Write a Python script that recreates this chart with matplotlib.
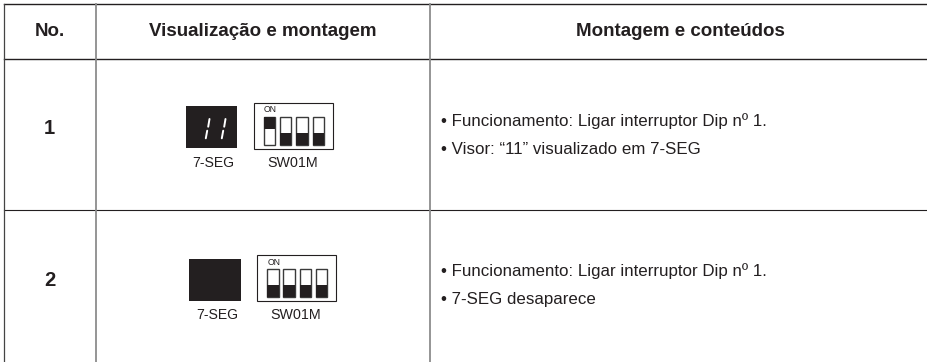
"""Table of 7-SEG and DIP switch display states."""

import matplotlib

matplotlib.use("Agg")
import matplotlib.pyplot as plt
from matplotlib.patches import Rectangle

plt.rcParams["font.family"] = ["Liberation Sans", "DejaVu Sans"]

headers = ["No.", "Visualização e montagem", "Montagem e conteúdos"]
row_numbers = ["1", "2"]
seg_digits = [2, 0]
switch_on = [[True, False, False, False], [False, False, False, False]]
contents = [
    ["• Funcionamento: Ligar interruptor Dip nº 1.", "• Visor: “11” visualizado em 7-SEG"],
    ["• Funcionamento: Ligar interruptor Dip nº 1.", "• 7-SEG desaparece"],
]

INK = "#231f20"
GREY = "#8c8c8c"

fig = plt.figure(figsize=(9.28, 3.62), dpi=100)
ax = fig.add_axes([0, 0, 1, 1])
ax.set_xlim(0, 928)
ax.set_ylim(362, 0)
ax.axis("off")

# table rules
ax.plot([4.3, 928], [4.3, 4.3], color=INK, lw=1.0)
ax.plot([4.3, 928], [59.3, 59.3], color=INK, lw=1.0)
ax.plot([4.3, 928], [210.2, 210.2], color=INK, lw=0.8)
ax.plot([4.3, 4.3], [4.3, 362], color="#444444", lw=0.9)
ax.plot([96, 96], [4.3, 362], color=GREY, lw=1.3)
ax.plot([430, 430], [4.3, 362], color=GREY, lw=1.3)

header_x = [50, 262.7, 680]
for x, label in zip(header_x, headers):
    ax.text(x, 31, label, ha="center", va="center", fontsize=13.5,
            fontweight="bold", color=INK)

seg_left = [186, 189.5]
seg_top = [106, 259]
box_left = [254.5, 257.5]
box_top = [103, 255]
switch_left = [264, 267.3]
switch_top = [116.7, 268.5]
on_y = [110, 262.7]
number_y = [128, 281]
caption_y = [163, 315]
text_y = [[121, 149.5], [271, 299.5]]

for i, number in enumerate(row_numbers):
    ax.text(49.5, number_y[i], number, ha="center", va="center", fontsize=14.5,
            fontweight="bold", color=INK)

    # 7-SEG block
    left, top = seg_left[i], seg_top[i]
    ax.add_patch(Rectangle((left, top), 51.5, 41.8, fc=INK, ec="none"))
    for d in range(seg_digits[i]):
        dx = left + 23.5 + d * 16
        ax.plot([dx, dx - 1.3], [top + 13, top + 20.7], color="white", lw=1.4,
                solid_capstyle="round")
        ax.plot([dx - 2.3, dx - 3.7], [top + 24.7, top + 32.3], color="white", lw=1.4,
                solid_capstyle="round")
    ax.text(left + 27.5, caption_y[i], "7-SEG", ha="center", va="center",
            fontsize=10.1, color=INK)

    # DIP switch
    ax.add_patch(Rectangle((box_left[i], box_top[i]), 78.5, 45.5, fc="white",
                           ec=INK, lw=0.8))
    ax.text(switch_left[i], on_y[i], "ON", ha="left", va="center",
            fontsize=6.2, color=INK)
    for j, on in enumerate(switch_on[i]):
        x = switch_left[i] + j * 16.2
        ax.add_patch(Rectangle((x, switch_top[i]), 11.3, 28.5, fc="white",
                               ec="#3a3a3a", lw=1.0))
        dark_y = switch_top[i] if on else switch_top[i] + 16.3
        ax.add_patch(Rectangle((x, dark_y), 11.3, 12.2, fc=INK, ec="none"))
    ax.text(box_left[i] + 38, caption_y[i], "SW01M", ha="center", va="center",
            fontsize=10.3, color=INK)

    for y, line in zip(text_y[i], contents[i]):
        ax.text(441.5, y, line, ha="left", va="center", fontsize=12.2, color=INK)

fig.savefig("out.png", dpi=100, facecolor="white")
